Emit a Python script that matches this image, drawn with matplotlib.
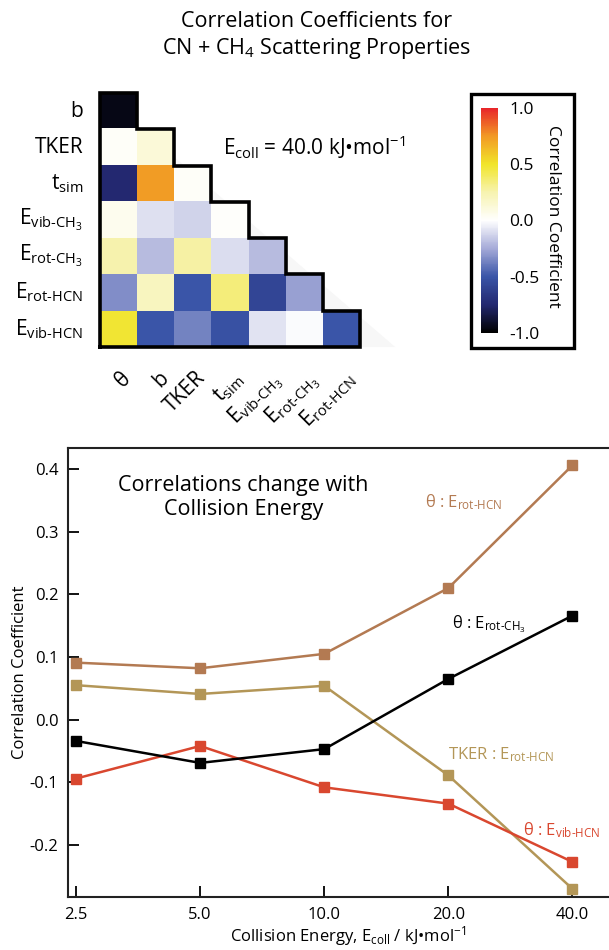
import matplotlib
matplotlib.use('Agg')
import matplotlib.pyplot as plt
import numpy as np
from matplotlib.colors import LinearSegmentedColormap
from matplotlib.patches import Polygon, Rectangle

plt.rcParams['font.family'] = ['Open Sans', 'DejaVu Sans']
plt.rcParams['mathtext.fontset'] = 'custom'
plt.rcParams['mathtext.rm'] = 'Open Sans'
plt.rcParams['mathtext.it'] = 'Open Sans:italic'
plt.rcParams['mathtext.bf'] = 'Open Sans:bold'


def lab(main, sub):
    return main + r'$_{\mathrm{' + sub.replace('-', r'\text{-}') + '}}$'


# heatmap data (lower triangle, row by row)
row_names = ['b', 'TKER', lab('t', 'sim'), lab('E', 'vib-CH_3'), lab('E', 'rot-CH_3'),
             lab('E', 'rot-HCN'), lab('E', 'vib-HCN')]
col_names = ['θ', 'b', 'TKER', lab('t', 'sim'), lab('E', 'vib-CH_3'), lab('E', 'rot-CH_3'),
             lab('E', 'rot-HCN')]
corr_rows = [
    [-0.95],
    [0.02, 0.12],
    [-0.75, 0.74, 0.02],
    [0.05, -0.09, -0.13, 0.01],
    [0.25, -0.2, 0.27, -0.1, -0.2],
    [-0.33, 0.2, -0.5, 0.35, -0.58, -0.28],
    [0.48, -0.5, -0.36, -0.52, -0.08, -0.01, -0.5],
]

# line chart data
energies = ['2.5', '5.0', '10.0', '20.0', '40.0']
theta_rot_hcn = [0.091, 0.082, 0.105, 0.210, 0.406]
theta_rot_ch3 = [-0.034, -0.069, -0.047, 0.065, 0.166]
tker_rot_hcn = [0.055, 0.041, 0.054, -0.089, -0.270]
theta_vib_hcn = [-0.094, -0.042, -0.108, -0.134, -0.227]

cmap = LinearSegmentedColormap.from_list('corr', [
    (0.0, '#000000'), (0.125, '#232870'), (0.25, '#3a55a8'), (0.375, '#a5aad8'),
    (0.5, '#ffffff'), (0.625, '#f7f3b0'), (0.75, '#f1e52a'), (0.875, '#f29a25'),
    (1.0, '#e8262a')])

fig = plt.figure(figsize=(6.09, 9.5), dpi=100)

fig.text(0.52, 0.977, 'Correlation Coefficients for', ha='center', va='center', fontsize=15.5)
fig.text(0.52, 0.949, 'CN + CH$_4$ Scattering Properties', ha='center', va='center', fontsize=15.5)

# heatmap
n = len(row_names)
mat = np.full((n, n), np.nan)
for i, r in enumerate(corr_rows):
    mat[i, :len(r)] = r
ax1 = fig.add_axes([0.1642, 0.6347, 0.4269, 0.2674])
ax1.add_patch(Polygon([(-0.5, -0.5), (7.45, 6.5), (-0.5, 6.5)], closed=True,
                      facecolor='#f7f7f7', edgecolor='none', zorder=0, clip_on=False))
im = ax1.imshow(np.ma.masked_invalid(mat), cmap=cmap, vmin=-1, vmax=1, aspect='auto',
                zorder=1, extent=(-0.5, n - 0.5, n - 0.5, -0.5))
ax1.set_xlim(-0.5, n - 0.5)
ax1.set_ylim(n - 0.5, -0.5)
for s in ax1.spines.values():
    s.set_visible(False)
ax1.set_xticks([])
ax1.set_yticks([])
# staircase outline
px, py = [-0.5, -0.5], [n - 0.5, -0.5]
for k in range(n):
    px += [k + 0.5, k + 0.5]
    py += [k - 0.5, k + 0.5 if k < n - 1 else n - 0.5]
px.append(-0.5); py.append(n - 0.5)
ax1.plot(px, py, color='black', lw=2.6, clip_on=False, zorder=3, solid_joinstyle='miter')
for i, name in enumerate(row_names):
    ax1.text(-0.95, i, name, ha='right', va='center', fontsize=15)
for j, name in enumerate(col_names):
    ax1.text(j + 0.05, n - 0.5 + 0.57, name, ha='right', va='top', rotation=45,
             rotation_mode='anchor', fontsize=15)
ax1.text(2.81, 1.0, 'E$_{\\mathrm{coll}}$ = 40.0 kJ•mol$^{\\mathrm{-1}}$', ha='left',
         va='center', fontsize=15)

# colorbar
fig.add_artist(Rectangle((471 / 609, 1 - 348 / 950), 103 / 609, 254 / 950, fill=False,
                         edgecolor='black', lw=2.4, transform=fig.transFigure))
cax = fig.add_axes([481 / 609, 1 - 333 / 950, 17 / 609, 225 / 950])
cb = fig.colorbar(im, cax=cax, ticks=[-1, -0.5, 0, 0.5, 1])
cb.outline.set_visible(False)
cb.ax.tick_params(length=0, labelsize=12.5, pad=8)
cb.ax.set_yticklabels(['-1.0', '-0.5', '0.0', '0.5', '1.0'])
fig.text(553 / 609, 1 - 216 / 950, 'Correlation Coefficient', rotation=-90, ha='center',
         va='center', fontsize=12.5)

# line chart
ax2 = fig.add_axes([0.1117, 0.0558, 0.92, 0.4726])
x = np.arange(len(energies))
kw = dict(marker='s', markersize=7, lw=1.8, clip_on=False)
ax2.plot(x, theta_rot_hcn, color='#b37a52', **kw)
ax2.plot(x, tker_rot_hcn, color='#b39657', **kw)
ax2.plot(x, theta_vib_hcn, color='#d9472f', **kw)
ax2.plot(x, theta_rot_ch3, color='black', **kw)
ax2.set_xlim(-0.065, 4.45)
ax2.set_ylim(-0.283, 0.4335)
ax2.set_xticks(x)
ax2.set_xticklabels(energies)
ax2.set_yticks([-0.2, -0.1, 0.0, 0.1, 0.2, 0.3, 0.4])
ax2.set_yticklabels(['-0.2', '-0.1', '0.0', '0.1', '0.2', '0.3', '0.4'])
ax2.tick_params(direction='in', length=8, width=1.3, labelsize=12, pad=7)
for s in ax2.spines.values():
    s.set_linewidth(1.5)
    s.set_color('#222222')
ax2.set_ylabel('Correlation Coefficient', fontsize=12, labelpad=1)
ax2.set_xlabel('Collision Energy, E$_{\\mathrm{coll}}$ / kJ•mol$^{\\mathrm{-1}}$', fontsize=12,
               labelpad=1)
ax2.text(1.35, 0.355, 'Correlations change with\nCollision Energy', ha='center', va='center',
         fontsize=15.5, linespacing=1.2)
ax2.text(2.81, 0.339, 'θ : ' + lab('E', 'rot-HCN'), color='#b37a52', fontsize=12)
ax2.text(3.03, 0.146, 'θ : ' + lab('E', 'rot-CH_3'), color='black', fontsize=12)
ax2.text(3.0, -0.064, 'TKER : ' + lab('E', 'rot-HCN'), color='#b39657', fontsize=12)
ax2.text(3.6, -0.184, 'θ : ' + lab('E', 'vib-HCN'), color='#d9472f', fontsize=12)

fig.savefig('out.png', dpi=100)
